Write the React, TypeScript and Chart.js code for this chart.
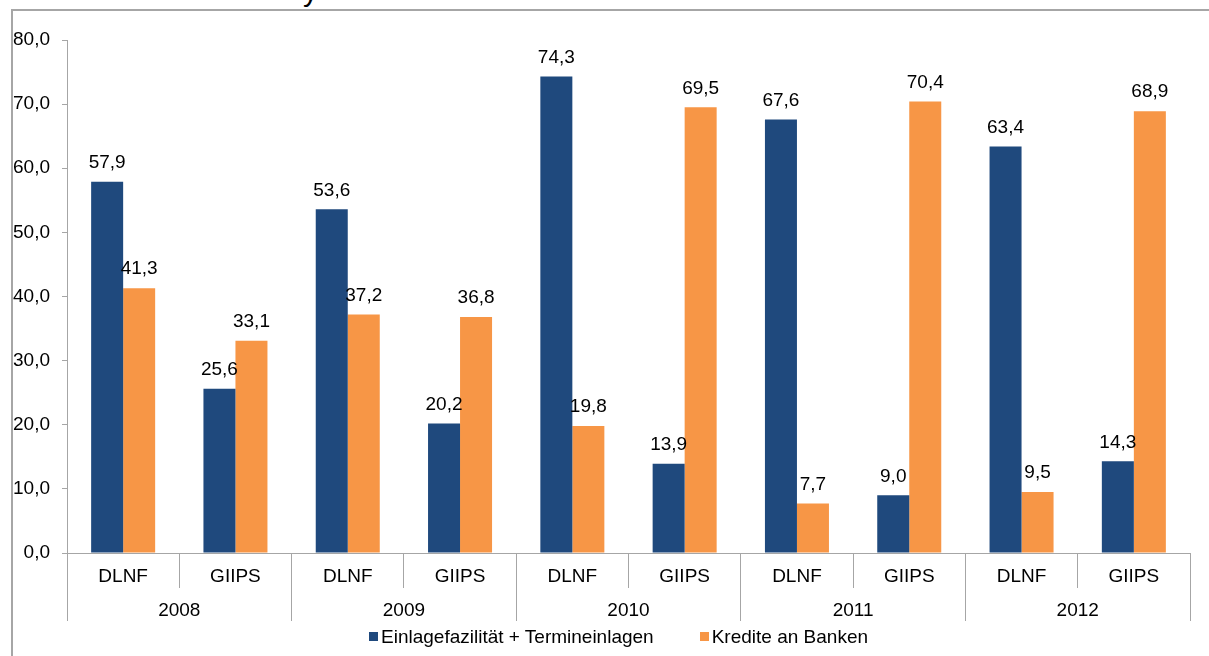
import React, { useEffect, useRef } from 'react';
import { Chart, registerables } from 'chart.js';

Chart.register(...registerables);

const subCategories = ['DLNF', 'GIIPS', 'DLNF', 'GIIPS', 'DLNF', 'GIIPS', 'DLNF', 'GIIPS', 'DLNF', 'GIIPS'];
const years = ['2008', '2009', '2010', '2011', '2012'];
const einlageValues = [57.9, 25.6, 53.6, 20.2, 74.3, 13.9, 67.6, 9.0, 63.4, 14.3];
const krediteValues = [41.3, 33.1, 37.2, 36.8, 19.8, 69.5, 7.7, 70.4, 9.5, 68.9];
const seriesNames = ['Einlagefazilität + Termineinlagen', 'Kredite an Banken'];
const seriesColors = ['#1F497D', '#F79646'];
const yMin = 0;
const yMax = 80;
const yStep = 10;

const FONT = "'Liberation Sans', Arial, sans-serif";
const FS = 19;
const GRAY = '#A6A6A6';

const fmt = (v: number) => Number(v).toFixed(1).replace('.', ',');

const valueLabels = {
  id: 'valueLabels',
  afterDatasetsDraw(chart: any) {
    const ctx = chart.ctx;
    ctx.save();
    ctx.font = `${FS}px ${FONT}`;
    ctx.fillStyle = '#000';
    ctx.textAlign = 'center';
    ctx.textBaseline = 'middle';
    chart.data.datasets.forEach((ds: any, di: number) => {
      const meta = chart.getDatasetMeta(di);
      meta.data.forEach((bar: any, i: number) => {
        ctx.fillText(fmt(ds.data[i]), bar.x, bar.y - 19);
      });
    });
    ctx.restore();
  },
};

export default function App() {
  const ref = useRef<HTMLCanvasElement>(null);

  useEffect(() => {
    if (!ref.current) return;
    const chart = new Chart(ref.current, {
      type: 'bar',
      data: {
        labels: subCategories,
        datasets: [
          { label: seriesNames[0], data: einlageValues, backgroundColor: seriesColors[0], borderWidth: 0 },
          { label: seriesNames[1], data: krediteValues, backgroundColor: seriesColors[1], borderWidth: 0 },
        ],
      },
      options: {
        animation: false,
        responsive: false,
        maintainAspectRatio: false,
        layout: { padding: { left: 0, top: 40, right: 19, bottom: 35 } },
        datasets: { bar: { barPercentage: 1, categoryPercentage: 0.57 } },
        plugins: { legend: { display: false }, tooltip: { enabled: false } },
        scales: {
          x: {
            type: 'category',
            position: 'bottom',
            weight: 0,
            offset: true,
            grid: { offset: true, drawOnChartArea: false, drawTicks: true, tickLength: 35, color: GRAY, lineWidth: 1 },
            border: { display: true, color: GRAY, width: 1 },
            ticks: { padding: -23, color: '#000', font: { family: FONT, size: FS }, maxRotation: 0, autoSkip: false },
            afterFit: (s: any) => { s.height = 35; },
          },
          x2: {
            type: 'category',
            labels: years,
            position: 'bottom',
            weight: 1,
            offset: true,
            grid: { offset: true, drawOnChartArea: false, drawTicks: true, tickLength: 33, color: GRAY, lineWidth: 1 },
            border: { display: false },
            ticks: { padding: -22, color: '#000', font: { family: FONT, size: FS }, maxRotation: 0, autoSkip: false },
            afterFit: (s: any) => { s.height = 33; },
          },
          y: {
            min: yMin,
            max: yMax,
            ticks: { stepSize: yStep, padding: 12, color: '#000', font: { family: FONT, size: FS }, callback: (v: any) => fmt(v) },
            grid: { drawOnChartArea: false, drawTicks: true, tickLength: 5, color: GRAY },
            border: { display: true, color: GRAY, width: 1 },
            afterFit: (s: any) => { s.width = 67; },
          },
        },
      } as any,
      plugins: [valueLabels],
    });
    return () => chart.destroy();
  }, []);

  return (
    <div style={{ position: 'fixed', left: 0, top: 0, width: 1209, height: 656, overflow: 'hidden', background: '#fff', fontFamily: FONT }}>
      <div style={{ position: 'absolute', left: 11, top: 9, right: 0, bottom: 0, borderLeft: `2px solid ${GRAY}`, borderTop: `2px solid ${GRAY}` }} />
      <div style={{ position: 'absolute', left: 303, top: -24.5, fontSize: 30, lineHeight: '30px', color: '#000' }}>y</div>
      <canvas ref={ref} width={1209} height={656} style={{ position: 'absolute', left: 0, top: 0, display: 'block' }} />
      <div style={{ position: 'absolute', left: 369, top: 627, display: 'flex', alignItems: 'center', gap: 46, fontSize: FS, lineHeight: '19px', color: '#000' }}>
        {seriesNames.map((name, i) => (
          <div key={name} style={{ display: 'flex', alignItems: 'center', gap: 3 }}>
            <span style={{ display: 'inline-block', width: 9, height: 9, background: seriesColors[i] }} />
            <span>{name}</span>
          </div>
        ))}
      </div>
    </div>
  );
}
